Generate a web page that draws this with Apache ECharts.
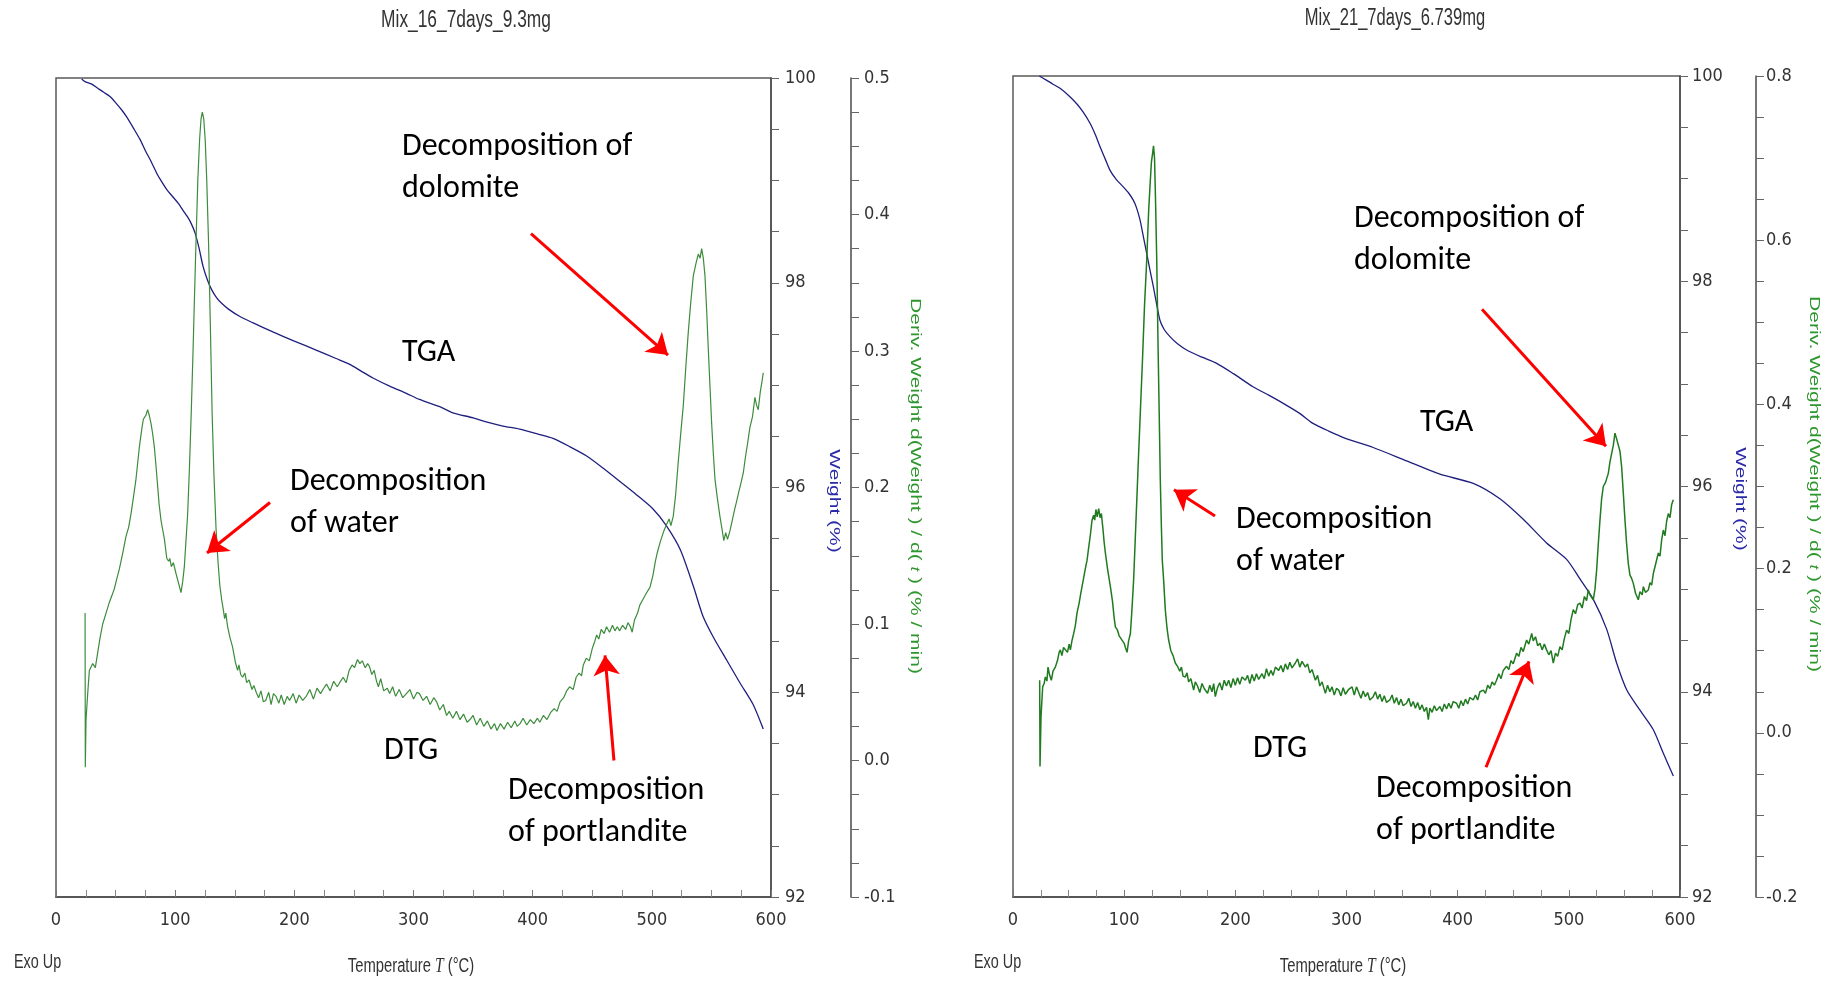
<!DOCTYPE html>
<html>
<head>
<meta charset="utf-8">
<title>TGA / DTG</title>
<script src="https://cdn.jsdelivr.net/npm/echarts/dist/echarts.min.js"></script>
<style>
  html, body { margin: 0; padding: 0; background: #fff; }
  #chart { width: 1827px; height: 981px; }
</style>
</head>
<body>
<div id="chart"></div>
<script>
// ---------- axis tick labels ----------
const tempTicks = [0, 100, 200, 300, 400, 500, 600];
const weightTicks = [92, 94, 96, 98, 100];
const derivTicks16 = [-0.1, 0.0, 0.1, 0.2, 0.3, 0.4, 0.5];
const derivTicks21 = [-0.2, 0.0, 0.2, 0.4, 0.6, 0.8];

// ---------- Mix_16_7days_9.3mg : TGA (weight %) ----------
const tga16Temp = [21.5, 24.3, 30, 35, 40, 45.3, 50, 55, 59.3, 65, 70.5, 75, 80, 84.5, 88, 93, 98, 103, 107, 110,
  113, 116.6, 120, 123.4, 127, 130.7, 135, 139, 145, 154.4, 165, 182, 200, 218.8, 235, 247, 257, 266, 280, 294,
  305, 322, 333, 350, 361, 375, 389, 405, 417, 431, 445, 459, 473, 487, 501, 512, 524, 535, 543, 552,
  563, 574, 585, 593.5];
const tga16Weight = [99.99, 99.965, 99.94, 99.90, 99.86, 99.82, 99.76, 99.69, 99.62, 99.51, 99.40, 99.29, 99.18, 99.07, 99.00, 98.91, 98.84, 98.77, 98.70, 98.65,
  98.59, 98.49, 98.34, 98.16, 98.03, 97.93, 97.85, 97.80, 97.74, 97.67, 97.61, 97.52, 97.43, 97.34, 97.26, 97.20, 97.13, 97.07, 96.99, 96.92,
  96.86, 96.79, 96.73, 96.68, 96.64, 96.60, 96.57, 96.52, 96.48, 96.40, 96.31, 96.19, 96.06, 95.93, 95.79, 95.63, 95.39, 95.03, 94.74, 94.53,
  94.31, 94.09, 93.88, 93.64];

// ---------- Mix_16_7days_9.3mg : DTG (%/min) ----------
const dtg16Temp = [24.4, 24.6, 25.2, 26.6, 28.0, 30.8, 33.0, 35.0, 37.0, 39.2, 42.0, 44.8, 47.0, 49.0, 51.0, 53.1, 56.0, 58.7, 61.0, 63.0,
  65.0, 67.1, 70.0, 72.0, 73.3, 74.5, 75.5, 76.9, 78.5, 79.7, 81.0, 82.5, 84.0, 85.3, 86.5, 88.1, 91.0, 93.0, 94.5, 95.5,
  96.8, 98.5, 100.7, 102.5, 104.9, 106.3, 107.7, 109.0, 110.5, 112.0, 113.5, 115.0, 117.0, 119.0, 120.5, 121.7, 122.8, 124.0, 125.2, 126.5,
  128.0, 129.5, 131.0, 132.5, 134.3, 136.0, 137.5, 139.0, 140.5, 141.5, 142.5, 144.0, 146.0, 148.2, 150.5, 152.4, 153.5, 155.0, 156.6, 158.5,
  160.0, 162.0, 164.5, 166.0, 168.0, 170.0, 172.0, 174.0, 176.0, 178.5, 180.5, 182.5, 184.6, 187.0, 189.0, 191.5, 194.0, 196.0, 199.0, 201.5,
  204.0, 207.0, 210.0, 213.0, 216.0, 219.0, 222.0, 224.0, 227.0, 230.0, 233.0, 236.0, 238.0, 241.0, 243.5, 246.0, 248.5, 250.5, 253.0, 255.0,
  257.0, 259.5, 261.5, 263.0, 265.0, 267.0, 269.0, 270.5, 272.5, 275.0, 278.0, 280.0, 282.5, 285.0, 288.0, 291.0, 294.0, 297.0, 300.0, 303.0,
  305.0, 308.0, 311.0, 314.0, 317.0, 319.4, 322.0, 325.0, 327.8, 330.0, 333.0, 336.0, 339.0, 342.0, 345.0, 347.4, 350.0, 353.0, 356.0, 359.0,
  362.0, 365.0, 368.0, 370.0, 373.0, 376.0, 379.0, 382.0, 385.0, 387.0, 389.4, 392.0, 395.0, 398.0, 401.0, 404.0, 406.0, 409.0, 412.0, 415.0,
  418.0, 420.5, 423.0, 426.0, 428.5, 431.0, 434.0, 436.5, 439.0, 441.0, 442.5, 445.0, 447.5, 450.0, 452.0, 453.7, 455.5, 457.5, 460.0, 462.0,
  464.5, 467.0, 469.0, 471.0, 473.0, 475.5, 478.0, 480.0, 482.0, 483.5, 485.5, 488.0, 490.0, 492.5, 495.0, 498.5, 501.0, 503.0, 504.5, 507.0,
  510.0, 512.4, 514.5, 516.0, 518.0, 520.0, 522.2, 524.3, 526.4, 528.5, 530.6, 532.7, 534.8, 537.0, 539.0, 540.5, 541.8, 543.2, 544.6, 546.0,
  547.4, 548.8, 550.2, 551.6, 553.0, 555.0, 557.1, 558.8, 560.4, 562.0, 563.5, 565.5, 567.5, 569.5, 571.2, 573.0, 575.0, 576.8, 578.5, 580.5,
  582.3, 584.5, 586.5, 588.0, 589.3, 591.0, 592.5, 593.5];
const dtg16Deriv = [0.108, -0.005, 0.030, 0.049, 0.066, 0.071, 0.068, 0.079, 0.090, 0.100, 0.108, 0.116, 0.121, 0.126, 0.133, 0.140, 0.152, 0.164, 0.171, 0.181,
  0.193, 0.206, 0.230, 0.243, 0.250, 0.249, 0.253, 0.257, 0.252, 0.247, 0.240, 0.230, 0.215, 0.201, 0.188, 0.176, 0.162, 0.148, 0.146, 0.148,
  0.142, 0.145, 0.137, 0.131, 0.123, 0.131, 0.142, 0.160, 0.181, 0.215, 0.255, 0.300, 0.365, 0.425, 0.455, 0.470, 0.475, 0.470, 0.455, 0.425,
  0.380, 0.320, 0.255, 0.210, 0.170, 0.145, 0.128, 0.118, 0.110, 0.104, 0.108, 0.098, 0.090, 0.083, 0.072, 0.066, 0.070, 0.063, 0.061, 0.064,
  0.057, 0.059, 0.052, 0.055, 0.050, 0.046, 0.051, 0.043, 0.044, 0.050, 0.041, 0.049, 0.047, 0.042, 0.048, 0.041, 0.047, 0.044, 0.049, 0.042,
  0.048, 0.044, 0.047, 0.052, 0.045, 0.053, 0.049, 0.052, 0.056, 0.051, 0.058, 0.054, 0.057, 0.061, 0.057, 0.066, 0.070, 0.068, 0.074, 0.071,
  0.073, 0.068, 0.071, 0.069, 0.063, 0.066, 0.058, 0.054, 0.060, 0.051, 0.053, 0.049, 0.054, 0.047, 0.052, 0.046, 0.049, 0.052, 0.045, 0.050,
  0.049, 0.044, 0.047, 0.041, 0.046, 0.043, 0.037, 0.041, 0.033, 0.036, 0.031, 0.036, 0.030, 0.034, 0.028, 0.030, 0.033, 0.026, 0.031, 0.025,
  0.029, 0.023, 0.027, 0.022, 0.027, 0.023, 0.028, 0.024, 0.029, 0.025, 0.027, 0.031, 0.026, 0.030, 0.027, 0.031, 0.028, 0.033, 0.030, 0.035,
  0.038, 0.036, 0.043, 0.046, 0.051, 0.054, 0.052, 0.061, 0.064, 0.062, 0.070, 0.075, 0.073, 0.082, 0.087, 0.092, 0.089, 0.096, 0.093, 0.098,
  0.094, 0.099, 0.095, 0.098, 0.095, 0.099, 0.096, 0.101, 0.098, 0.094, 0.103, 0.108, 0.114, 0.118, 0.122, 0.127, 0.136, 0.146, 0.152, 0.160,
  0.168, 0.173, 0.177, 0.172, 0.179, 0.195, 0.219, 0.240, 0.260, 0.288, 0.314, 0.336, 0.355, 0.364, 0.371, 0.368, 0.375, 0.368, 0.355, 0.330,
  0.301, 0.274, 0.247, 0.225, 0.206, 0.192, 0.179, 0.170, 0.161, 0.167, 0.162, 0.168, 0.176, 0.184, 0.190, 0.197, 0.204, 0.211, 0.222, 0.233,
  0.244, 0.252, 0.266, 0.260, 0.257, 0.270, 0.278, 0.284];

// ---------- Mix_21_7days_6.739mg : TGA (weight %) ----------
const tga21Temp = [23.7, 30, 36, 42.3, 50, 57.3, 63, 69.3, 74, 78.3, 83, 87.3, 93, 99.2, 104, 108.2, 111, 114.2, 117, 120.3,
  123, 126.2, 129, 132.2, 136, 141.2, 148, 156.2, 170, 183.2, 198.2, 216.2, 230, 243.1, 258.2, 269, 284, 299, 324, 354,
  384, 414, 438, 459, 480, 498, 510, 522, 534, 543, 552, 564, 576, 585, 594];
const tga21Weight = [100.00, 99.96, 99.92, 99.88, 99.81, 99.73, 99.65, 99.54, 99.43, 99.31, 99.19, 99.08, 98.99, 98.92, 98.86, 98.79, 98.72, 98.60, 98.45, 98.27,
  98.12, 97.95, 97.79, 97.62, 97.53, 97.46, 97.39, 97.33, 97.26, 97.20, 97.10, 96.97, 96.89, 96.81, 96.71, 96.62, 96.54, 96.47, 96.38, 96.25,
  96.12, 96.03, 95.88, 95.68, 95.45, 95.29, 95.10, 94.90, 94.61, 94.28, 94.02, 93.82, 93.63, 93.40, 93.18];

// ---------- Mix_21_7days_6.739mg : DTG (%/min) ----------
const dtg21Temp = [24.0, 24.3, 25.2, 26.7, 28.0, 29.1, 30.5, 31.5, 33.0, 34.5, 36.0, 38.1, 40.0, 41.5, 42.6, 44.0, 45.5, 47.1, 49.0, 50.5,
  51.6, 53.0, 54.6, 56.0, 57.6, 59.5, 61.0, 62.1, 64.0, 65.5, 66.6, 68.0, 69.5, 71.1, 72.5, 73.5, 74.6, 75.7, 77.1, 78.3,
  79.5, 80.8, 82.0, 83.1, 85.0, 87.6, 89.5, 91.0, 92.1, 94.0, 95.5, 96.6, 98.5, 100.0, 101.1, 102.6, 104.0, 105.6, 107.0, 108.5,
  110.0, 111.5, 113.0, 114.5, 116.5, 118.3, 120.3, 122.0, 123.2, 124.5, 125.5, 126.4, 127.3, 128.2, 129.3, 130.7, 131.5, 132.5, 133.5, 134.3,
  135.5, 137.0, 138.5, 140.0, 142.0, 144.0, 146.0, 148.0, 150.0, 151.5, 153.0, 155.0, 156.5, 158.0, 160.0, 162.5, 164.0, 166.0, 168.0, 170.0,
  172.0, 173.0, 175.0, 177.0, 179.0, 180.5, 182.0, 184.0, 186.0, 188.0, 190.0, 192.0, 194.0, 196.0, 198.0, 200.0, 202.0, 204.0, 206.0, 209.0,
  211.0, 213.0, 215.0, 217.0, 219.0, 221.0, 224.0, 226.0, 228.0, 230.0, 232.0, 234.0, 236.0, 239.0, 241.0, 243.0, 245.0, 247.0, 249.0, 251.0,
  254.0, 256.0, 258.0, 260.0, 263.0, 265.0, 267.0, 269.0, 272.0, 274.0, 276.0, 278.0, 281.0, 283.0, 285.0, 287.0, 289.0, 291.0, 293.0, 295.0,
  297.0, 299.0, 302.0, 305.0, 307.0, 309.0, 311.0, 313.0, 315.0, 317.0, 319.0, 321.0, 324.0, 326.0, 328.0, 330.0, 332.0, 334.0, 336.0, 339.0,
  341.0, 343.0, 345.0, 347.0, 349.0, 351.0, 354.0, 356.0, 358.0, 360.0, 362.0, 364.0, 366.0, 368.0, 370.0, 372.0, 373.6, 375.0, 377.0, 379.0,
  381.0, 384.0, 386.0, 388.0, 390.0, 392.0, 394.0, 396.0, 399.0, 401.0, 403.0, 405.0, 407.0, 409.0, 411.0, 414.0, 416.0, 418.0, 420.0, 423.1,
  425.0, 427.0, 429.0, 431.0, 433.0, 435.0, 437.0, 439.0, 441.0, 444.0, 446.0, 448.0, 450.0, 453.0, 455.0, 457.0, 459.0, 462.0, 464.0, 466.6,
  468.0, 470.0, 472.0, 474.0, 476.0, 478.0, 480.0, 482.0, 484.0, 486.0, 488.0, 490.0, 492.0, 494.0, 496.0, 498.0, 500.0, 502.0, 504.0, 506.0,
  508.0, 510.0, 512.0, 514.0, 516.0, 517.5, 519.0, 520.5, 522.0, 523.5, 525.0, 526.5, 528.0, 529.5, 531.0, 533.0, 535.5, 537.0, 538.5, 540.0,
  541.5, 543.0, 544.5, 546.0, 547.5, 549.0, 550.5, 552.0, 553.5, 555.0, 556.5, 558.0, 560.0, 562.5, 564.0, 566.0, 567.0, 569.0, 571.5, 573.0,
  574.5, 576.0, 578.0, 580.5, 582.0, 583.5, 585.0, 586.5, 588.0, 589.5, 591.0, 592.5, 594.0];
const dtg21Deriv = [0.064, -0.041, 0.020, 0.056, 0.060, 0.068, 0.063, 0.080, 0.070, 0.064, 0.075, 0.080, 0.088, 0.098, 0.101, 0.094, 0.104, 0.105, 0.098, 0.108,
  0.101, 0.112, 0.121, 0.130, 0.146, 0.158, 0.170, 0.178, 0.192, 0.203, 0.210, 0.225, 0.240, 0.259, 0.265, 0.259, 0.272, 0.263, 0.273, 0.262,
  0.267, 0.250, 0.232, 0.219, 0.200, 0.178, 0.160, 0.140, 0.129, 0.125, 0.118, 0.117, 0.112, 0.109, 0.104, 0.098, 0.112, 0.121, 0.150, 0.186,
  0.237, 0.288, 0.340, 0.389, 0.455, 0.520, 0.576, 0.635, 0.665, 0.695, 0.705, 0.715, 0.700, 0.650, 0.576, 0.454, 0.390, 0.308, 0.250, 0.210,
  0.186, 0.150, 0.128, 0.113, 0.100, 0.094, 0.085, 0.081, 0.075, 0.080, 0.069, 0.068, 0.073, 0.062, 0.066, 0.052, 0.062, 0.057, 0.049, 0.060,
  0.054, 0.056, 0.048, 0.058, 0.050, 0.060, 0.044, 0.055, 0.061, 0.052, 0.064, 0.057, 0.064, 0.055, 0.066, 0.058, 0.067, 0.059, 0.068, 0.064,
  0.070, 0.060, 0.071, 0.063, 0.072, 0.065, 0.072, 0.066, 0.078, 0.069, 0.076, 0.070, 0.080, 0.076, 0.082, 0.074, 0.084, 0.077, 0.086, 0.079,
  0.085, 0.090, 0.080, 0.087, 0.080, 0.084, 0.073, 0.077, 0.064, 0.070, 0.057, 0.062, 0.048, 0.058, 0.050, 0.056, 0.046, 0.054, 0.052, 0.045,
  0.055, 0.047, 0.053, 0.056, 0.046, 0.056, 0.049, 0.042, 0.051, 0.044, 0.049, 0.040, 0.044, 0.050, 0.041, 0.047, 0.038, 0.045, 0.037, 0.040,
  0.046, 0.036, 0.043, 0.034, 0.041, 0.033, 0.036, 0.042, 0.032, 0.038, 0.030, 0.037, 0.028, 0.034, 0.026, 0.031, 0.016, 0.030, 0.025, 0.033,
  0.027, 0.032, 0.026, 0.035, 0.029, 0.036, 0.030, 0.038, 0.036, 0.030, 0.039, 0.033, 0.041, 0.035, 0.043, 0.040, 0.046, 0.040, 0.050, 0.052,
  0.048, 0.058, 0.054, 0.062, 0.058, 0.064, 0.072, 0.066, 0.076, 0.081, 0.077, 0.088, 0.084, 0.097, 0.093, 0.104, 0.099, 0.113, 0.108, 0.121,
  0.112, 0.117, 0.106, 0.109, 0.101, 0.108, 0.101, 0.095, 0.100, 0.085, 0.097, 0.093, 0.105, 0.101, 0.115, 0.125, 0.121, 0.138, 0.150, 0.145,
  0.156, 0.158, 0.152, 0.166, 0.161, 0.174, 0.168, 0.170, 0.162, 0.175, 0.198, 0.230, 0.259, 0.285, 0.300, 0.305, 0.316, 0.330, 0.340, 0.350,
  0.365, 0.358, 0.357, 0.343, 0.324, 0.292, 0.259, 0.230, 0.206, 0.192, 0.188, 0.182, 0.170, 0.162, 0.172, 0.168, 0.178, 0.171, 0.174, 0.183,
  0.180, 0.194, 0.205, 0.219, 0.215, 0.235, 0.247, 0.240, 0.258, 0.267, 0.262, 0.278, 0.284];

// ---------- arrow annotations: [tempFrom, derivFrom, tempTo, derivTo] ----------
const arrows16 = [
  [398.6, 0.386, 513.6, 0.297],   // dolomite
  [179.6, 0.189, 126.7, 0.152],   // water
  [468.2, 0.000, 460.7, 0.077]    // portlandite
];
const arrows21 = [
  [421.9, 0.516, 533.4, 0.349],
  [181.7, 0.264, 144.8, 0.296],
  [425.5, -0.042, 464.2, 0.087]
];

// ---------- build ----------
const zip = (xs, ys) => xs.map((x, i) => [x, ys[i]]);

const NARROW = '"Liberation Sans Narrow", "Arial Narrow", "DejaVu Sans Condensed", sans-serif';
const SANS = '"Liberation Sans", Arial, sans-serif';
const NOTE = 'Carlito, Calibri, Lato, "Open Sans", sans-serif';
const AXIS_GREY = '#4a4a4a';
const TGA_BLUE = '#1f1f7e';
const DTG_GREEN16 = '#3c8c3c';
const DTG_GREEN21 = '#207a20';

function tempAxis(gi) {
  return {
    gridIndex: gi, type: 'value',
    min: tempTicks[0], max: tempTicks[tempTicks.length - 1], interval: tempTicks[1] - tempTicks[0],
    axisLine: { show: true, onZero: false, lineStyle: { color: AXIS_GREY, width: 1.5 } },
    axisTick: { show: true, inside: true, length: 7, lineStyle: { color: '#777' } },
    minorTick: { show: true, splitNumber: 4, length: 7, lineStyle: { color: '#888' } },
    splitLine: { show: false },
    axisLabel: { margin: 14, fontFamily: NARROW, fontSize: 18, color: '#333' }
  };
}
function weightAxis(gi, margin) {
  return {
    gridIndex: gi, type: 'value', position: 'right',
    min: weightTicks[0], max: weightTicks[weightTicks.length - 1], interval: weightTicks[1] - weightTicks[0],
    axisLine: { show: true, onZero: false, lineStyle: { color: AXIS_GREY, width: 1.5 } },
    axisTick: { show: true, length: 8, lineStyle: { color: '#666' } },
    minorTick: { show: true, splitNumber: 4, length: 8, lineStyle: { color: '#666' } },
    splitLine: { show: false },
    axisLabel: { margin: margin, fontFamily: NARROW, fontSize: 18, color: '#333' }
  };
}
function derivAxis(gi, ticks, offset, margin) {
  return {
    gridIndex: gi, type: 'value', position: 'right', offset: offset,
    min: ticks[0], max: ticks[ticks.length - 1], interval: +(ticks[1] - ticks[0]).toFixed(3),
    axisLine: { show: true, onZero: false, lineStyle: { color: AXIS_GREY, width: 1.5 } },
    axisTick: { show: true, length: 8, lineStyle: { color: '#666' } },
    minorTick: { show: true, splitNumber: 4, length: 8, lineStyle: { color: '#666' } },
    splitLine: { show: false },
    axisLabel: { margin: margin, fontFamily: NARROW, fontSize: 18, color: '#333',
      formatter: v => v.toFixed(1) }
  };
}
function arrowMarks(list) {
  return {
    silent: true, symbol: ['none', 'arrow'], symbolSize: 20,
    lineStyle: { color: '#ff0000', width: 3, type: 'solid' },
    itemStyle: { color: '#ff0000' },
    label: { show: false }, emphasis: { disabled: true },
    data: list.map(a => [{ coord: [a[0], a[1]] }, { coord: [a[2], a[3]] }])
  };
}
function line(xi, yi, data, color, width, extra) {
  return Object.assign({
    type: 'line', xAxisIndex: xi, yAxisIndex: yi, data: data,
    showSymbol: false, symbol: 'none', smooth: false, clip: true,
    lineStyle: { color: color, width: width }, emphasis: { disabled: true }
  }, extra || {});
}

// text helpers for graphic layer
function txt(x, y, text, font, fill, align, sx) {
  return { type: 'text', x: x, y: y, scaleX: sx || 1, silent: true,
    style: { text: text, font: font, fill: fill, textAlign: align || 'left', align: align || 'left',
             textVerticalAlign: 'middle', verticalAlign: 'middle', lineHeight: 42 } };
}
function vtxt(x, y, text, rich, fill) {
  return { type: 'text', x: x, y: y, rotation: -Math.PI / 2, scaleY: 0.74, silent: true,
    style: { text: text, rich: rich, font: '21px ' + SANS, fill: fill, textAlign: 'center', align: 'center',
             textVerticalAlign: 'middle', verticalAlign: 'middle' } };
}
const derivRich = (c) => ({
  n: { fontSize: 21, fontFamily: SANS, fill: c },
  i: { fontSize: 17, fontFamily: SANS, fontStyle: 'italic', fill: c }
});
const tempRich = {
  n: { fontSize: 20, fontFamily: SANS, fill: '#333' },
  i: { fontSize: 21, fontFamily: '"Liberation Serif", serif', fontStyle: 'italic', fill: '#333' }
};
const derivTitle = '{n|Deriv. Weight d(Weight ) / d( }{i|t}{n| ) (% / min)}';
const tempTitle = '{n|Temperature }{i|T}{n| (°C)}';
const NOTE_FONT = '32px ' + NOTE;

const option = {
  animation: false,
  backgroundColor: '#ffffff',
  grid: [
    { left: 56, top: 78, width: 715, height: 819, show: true, borderColor: '#5a5a5a', borderWidth: 1.5, backgroundColor: 'transparent' },
    { left: 1013, top: 76, width: 667, height: 821, show: true, borderColor: '#5a5a5a', borderWidth: 1.5, backgroundColor: 'transparent' }
  ],
  xAxis: [tempAxis(0), tempAxis(1)],
  yAxis: [
    weightAxis(0, 14),
    derivAxis(0, derivTicks16, 80, 13),
    weightAxis(1, 12),
    derivAxis(1, derivTicks21, 76, 10)
  ],
  series: [
    line(0, 0, zip(tga16Temp, tga16Weight), TGA_BLUE, 1.3, { smooth: 0.25 }),
    line(0, 1, zip(dtg16Temp, dtg16Deriv), DTG_GREEN16, 1.2, { markLine: arrowMarks(arrows16) }),
    line(1, 2, zip(tga21Temp, tga21Weight), TGA_BLUE, 1.3, { smooth: 0.25 }),
    line(1, 3, zip(dtg21Temp, dtg21Deriv), DTG_GREEN21, 1.5, { markLine: arrowMarks(arrows21) })
  ],
  graphic: [
    // titles
    txt(466, 21, 'Mix_16_7days_9.3mg', '23px ' + SANS, '#333', 'center', 0.755),
    txt(1395, 19, 'Mix_21_7days_6.739mg', '23px ' + SANS, '#333', 'center', 0.72),
    // x-axis captions
    Object.assign(txt(411, 966, '', '', '#333', 'center', 0.74), { style: { text: tempTitle, rich: tempRich, align: 'center', textAlign: 'center', verticalAlign: 'middle', textVerticalAlign: 'middle' } }),
    Object.assign(txt(1343, 966, '', '', '#333', 'center', 0.74), { style: { text: tempTitle, rich: tempRich, align: 'center', textAlign: 'center', verticalAlign: 'middle', textVerticalAlign: 'middle' } }),
    txt(14, 962, 'Exo Up', '20px ' + SANS, '#333', 'left', 0.72),
    txt(974, 962, 'Exo Up', '20px ' + SANS, '#333', 'left', 0.72),
    // y-axis captions
    vtxt(834, 501, 'Weight (%)', null, '#2a2aa8'),
    vtxt(915, 486, derivTitle, derivRich('#2e962e'), '#2e962e'),
    vtxt(1740, 499, 'Weight (%)', null, '#2a2aa8'),
    vtxt(1814, 484, derivTitle, derivRich('#2e962e'), '#2e962e'),
    // annotations, Mix_16
    txt(402, 168, 'Decomposition of\ndolomite', NOTE_FONT, '#000'),
    txt(402, 353, 'TGA', NOTE_FONT, '#000'),
    txt(290, 503, 'Decomposition\nof water', NOTE_FONT, '#000'),
    txt(384, 751, 'DTG', NOTE_FONT, '#000'),
    txt(508, 812, 'Decomposition\nof portlandite', NOTE_FONT, '#000'),
    // annotations, Mix_21
    txt(1354, 240, 'Decomposition of\ndolomite', NOTE_FONT, '#000'),
    txt(1420, 423, 'TGA', NOTE_FONT, '#000'),
    txt(1236, 541, 'Decomposition\nof water', NOTE_FONT, '#000'),
    txt(1253, 749, 'DTG', NOTE_FONT, '#000'),
    txt(1376, 810, 'Decomposition\nof portlandite', NOTE_FONT, '#000')
  ]
};

const chart = echarts.init(document.getElementById('chart'), null, { renderer: 'canvas' });
chart.setOption(option);
</script>
</body>
</html>
